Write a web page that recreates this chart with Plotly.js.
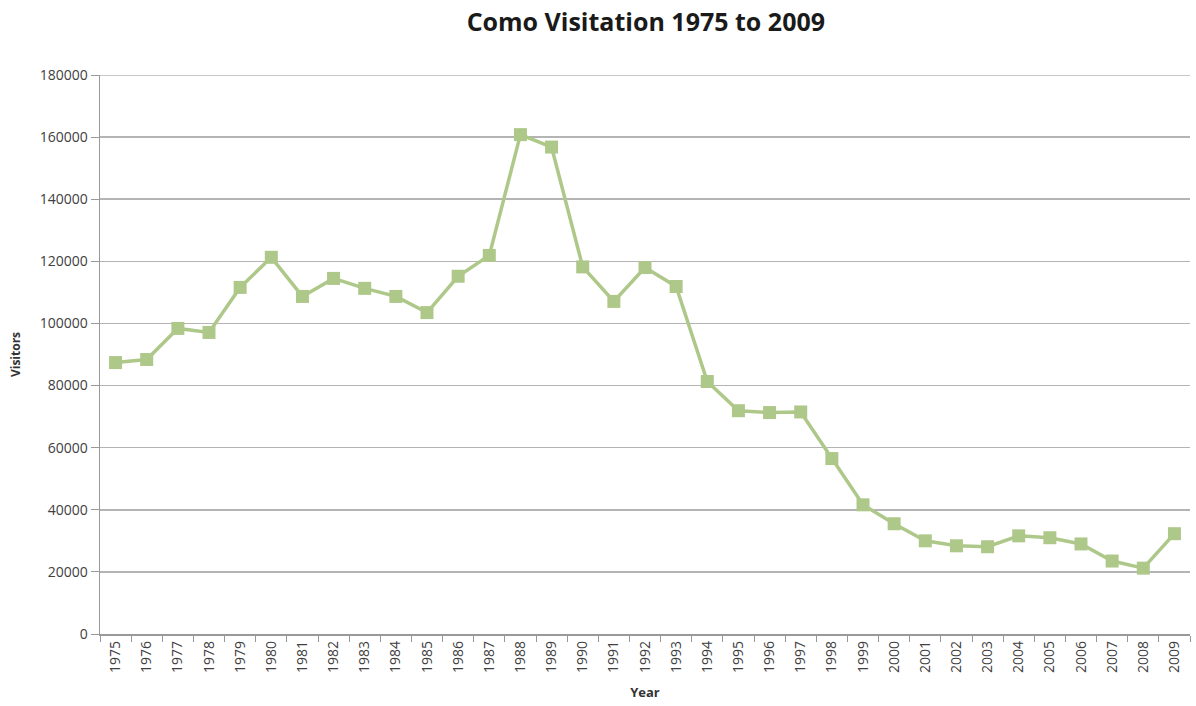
<!DOCTYPE html>
<html>
<head>
<meta charset="utf-8">
<script src="https://cdn.plot.ly/plotly-3.0.1.min.js"></script>
<style>html,body{margin:0;padding:0;background:#fff;}#chart{width:1196px;height:706px;}</style>
</head>
<body>
<div id="chart"></div>
<script>
const years = ["1975","1976","1977","1978","1979","1980","1981","1982","1983","1984","1985","1986","1987","1988","1989","1990","1991","1992","1993","1994","1995","1996","1997","1998","1999","2000","2001","2002","2003","2004","2005","2006","2007","2008","2009"];
const visitors = [87400,88400,98400,97100,111600,121300,108700,114500,111300,108700,103500,115200,121900,160800,156800,118200,107100,118000,111900,81300,71900,71300,71500,56500,41600,35500,30000,28400,28100,31600,31000,29000,23500,21200,32300];
const yTicks = [0,20000,40000,60000,80000,100000,120000,140000,160000,180000];
const yMax = 180000;

const trace = {
  x: years, y: visitors, type: 'scatter', mode: 'lines+markers',
  line: {color: '#aec88a', width: 3.5},
  marker: {symbol: 'square', size: 13, color: '#aec88a'},
  hoverinfo: 'x+y'
};
const layout = {
  width: 1196, height: 706,
  margin: {l: 100, r: 6, t: 75, b: 72},
  paper_bgcolor: '#fff', plot_bgcolor: '#fff',
  showlegend: false,
  title: {text: '<b>Como Visitation 1975 to 2009</b>', x: 0.54, xanchor: 'center', y: 0.968, yanchor: 'middle',
          font: {family: 'Open Sans, Liberation Sans, sans-serif', size: 25, color: '#1a1a1a'}},
  xaxis: {
    type: 'category', tickangle: -90, tickson: 'boundaries', ticks: 'outside', ticklen: 6, tickcolor: '#999',
    showline: true, linecolor: '#999', linewidth: 1.5, showgrid: false,
    tickfont: {family: 'Open Sans, sans-serif', size: 14, color: '#404040'},
    title: {text: '<b>Year</b>', standoff: 16, font: {family: 'Open Sans, sans-serif', size: 13, color: '#333'}},
    range: [-0.5, 34.5], fixedrange: true
  },
  yaxis: {
    range: [0, yMax], tickvals: yTicks, ticktext: yTicks.map(String),
    ticks: 'outside', ticklen: 8, tickcolor: '#999',
    showline: true, linecolor: '#999', linewidth: 1.5,
    showgrid: true, gridcolor: '#b4b4b4', gridwidth: 1.5, zeroline: false,
    tickfont: {family: 'Open Sans, sans-serif', size: 14, color: '#404040'},
    title: {text: '<b>Visitors</b>', standoff: 16, font: {family: 'Open Sans, sans-serif', size: 12, color: '#333'}},
    fixedrange: true
  },
  shapes: [{type: 'line', xref: 'paper', yref: 'y', x0: 0, x1: 1, y0: yMax, y1: yMax,
            line: {color: '#b4b4b4', width: 1.5}, layer: 'below'}]
};
Plotly.newPlot('chart', [trace], layout, {displayModeBar: false, staticPlot: true});
</script>
</body>
</html>
